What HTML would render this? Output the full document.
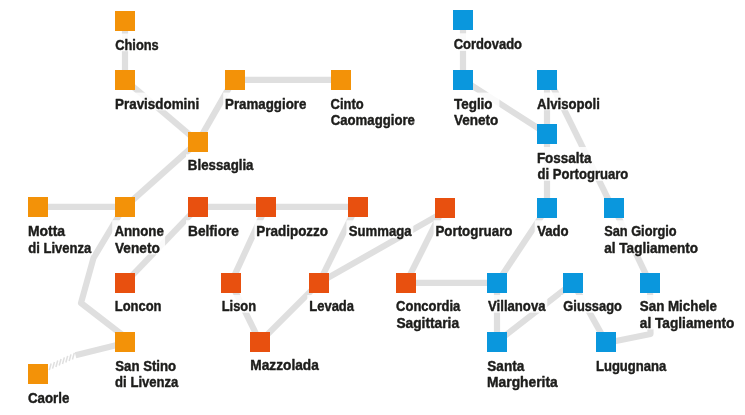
<!DOCTYPE html>
<html lang="it"><head><meta charset="utf-8"><title>Mappa</title>
<style>
html,body{margin:0;padding:0;background:#fff}
body{width:745px;height:415px;overflow:hidden}
svg{display:block}
text{font-family:"Liberation Sans",Arial,sans-serif;font-weight:bold;font-size:15px;fill:#1d1d1b;stroke:#1d1d1b;stroke-width:0.45px;stroke-linejoin:round}
.l{stroke:#dfdfdf;stroke-width:6.2;fill:none;stroke-linejoin:round}
</style></head><body>
<svg width="745" height="415" viewBox="0 0 745 415">
<g class="l">
<line x1="125" y1="20.9" x2="125" y2="79.9"/>
<line x1="125" y1="79.9" x2="198" y2="141.9"/>
<line x1="233.5" y1="79.9" x2="198" y2="141.9"/>
<line x1="235" y1="79.9" x2="341" y2="79.9"/>
<line x1="198" y1="141.9" x2="125" y2="206.9"/>
<line x1="38" y1="206.9" x2="125" y2="206.9"/>
<line x1="198" y1="206.9" x2="266" y2="206.9"/>
<line x1="266" y1="206.9" x2="358" y2="206.9"/>
<line x1="198" y1="206.9" x2="125" y2="282.9"/>
<line x1="266" y1="206.9" x2="231" y2="282.9"/>
<line x1="356.3" y1="206.9" x2="319" y2="282.9"/>
<line x1="231" y1="282.9" x2="260" y2="341.9"/>
<line x1="319" y1="282.9" x2="260" y2="341.9"/>
<line x1="319" y1="282.9" x2="445" y2="211.4"/>
<line x1="443.5" y1="207.9" x2="406" y2="282.9"/>
<line x1="406" y1="282.9" x2="497" y2="282.9"/>
<line x1="463" y1="19.9" x2="463" y2="79.9"/>
<line x1="463" y1="79.9" x2="547" y2="133.9"/>
<line x1="547" y1="79.9" x2="547" y2="133.9"/>
<line x1="549.5" y1="79.9" x2="612.5" y2="207.9"/>
<line x1="547" y1="133.9" x2="547" y2="207.9"/>
<line x1="547" y1="207.9" x2="497" y2="282.9"/>
<line x1="614" y1="207.9" x2="650" y2="282.9"/>
<line x1="497" y1="282.9" x2="497" y2="341.9"/>
<line x1="573" y1="282.9" x2="497" y2="341.9"/>
<line x1="573" y1="282.9" x2="606" y2="341.9"/>
<polyline points="124,207 93.5,258 81,303 125,337"/>
<polyline points="650,283 650.5,334 606,343"/>
<line x1="125" y1="343" x2="75.5" y2="355.2"/>
<line x1="49.30" y1="370.11" x2="51.10" y2="363.51" stroke-width="1.5"/>
<line x1="52.61" y1="368.59" x2="54.41" y2="361.99" stroke-width="1.5"/>
<line x1="55.92" y1="367.06" x2="57.72" y2="360.46" stroke-width="1.5"/>
<line x1="59.23" y1="365.54" x2="61.03" y2="358.94" stroke-width="1.5"/>
<line x1="62.54" y1="364.02" x2="64.34" y2="357.42" stroke-width="1.5"/>
<line x1="65.85" y1="362.50" x2="67.65" y2="355.89" stroke-width="1.5"/>
<line x1="69.16" y1="360.97" x2="70.96" y2="354.37" stroke-width="1.5"/>
<line x1="72.47" y1="359.45" x2="74.27" y2="352.85" stroke-width="1.5"/>
</g>
<rect x="115" y="11" width="20" height="20" fill="#f39208"/>
<rect x="115" y="70" width="20" height="20" fill="#f39208"/>
<rect x="225" y="70" width="20" height="20" fill="#f39208"/>
<rect x="331" y="70" width="20" height="20" fill="#f39208"/>
<rect x="188" y="132" width="20" height="20" fill="#f39208"/>
<rect x="28" y="197" width="20" height="20" fill="#f39208"/>
<rect x="115" y="197" width="20" height="20" fill="#f39208"/>
<rect x="188" y="197" width="20" height="20" fill="#e8500f"/>
<rect x="256" y="197" width="20" height="20" fill="#e8500f"/>
<rect x="348" y="197" width="20" height="20" fill="#e8500f"/>
<rect x="435" y="198" width="20" height="20" fill="#e8500f"/>
<rect x="115" y="273" width="20" height="20" fill="#e8500f"/>
<rect x="221" y="273" width="20" height="20" fill="#e8500f"/>
<rect x="309" y="273" width="20" height="20" fill="#e8500f"/>
<rect x="250" y="332" width="20" height="20" fill="#e8500f"/>
<rect x="115" y="332" width="20" height="20" fill="#f39208"/>
<rect x="28" y="364" width="20" height="20" fill="#f39208"/>
<rect x="453" y="10" width="20" height="20" fill="#0a97dd"/>
<rect x="453" y="70" width="20" height="20" fill="#0a97dd"/>
<rect x="537" y="70" width="20" height="20" fill="#0a97dd"/>
<rect x="537" y="124" width="20" height="20" fill="#0a97dd"/>
<rect x="537" y="198" width="20" height="20" fill="#0a97dd"/>
<rect x="604" y="198" width="20" height="20" fill="#0a97dd"/>
<rect x="396" y="273" width="20" height="20" fill="#e8500f"/>
<rect x="487" y="273" width="20" height="20" fill="#0a97dd"/>
<rect x="563" y="273" width="20" height="20" fill="#0a97dd"/>
<rect x="640" y="273" width="20" height="20" fill="#0a97dd"/>
<rect x="487" y="332" width="20" height="20" fill="#0a97dd"/>
<rect x="596" y="332" width="20" height="20" fill="#0a97dd"/>
<g fill="#fff" fill-opacity="0.84">
<rect x="113.1" y="33.5" width="46.6" height="17.7"/>
<rect x="113.2" y="92.6" width="87.0" height="17.7"/>
<rect x="223.2" y="92.6" width="84.3" height="17.7"/>
<rect x="328.6" y="92.6" width="87.4" height="34.1"/>
<rect x="186.0" y="154.3" width="69.3" height="17.7"/>
<rect x="26.0" y="220.2" width="67.0" height="34.2"/>
<rect x="112.2" y="220.2" width="52.9" height="34.2"/>
<rect x="186.0" y="220.2" width="54.0" height="17.7"/>
<rect x="254.5" y="220.2" width="74.6" height="17.7"/>
<rect x="346.4" y="220.3" width="66.9" height="17.7"/>
<rect x="433.6" y="220.3" width="80.1" height="17.7"/>
<rect x="112.9" y="295.0" width="49.7" height="17.7"/>
<rect x="219.7" y="295.0" width="37.3" height="17.7"/>
<rect x="307.3" y="295.0" width="48.6" height="17.7"/>
<rect x="248.5" y="354.0" width="72.3" height="17.7"/>
<rect x="112.9" y="354.7" width="67.3" height="34.2"/>
<rect x="25.7" y="386.6" width="45.0" height="17.7"/>
<rect x="451.6" y="33.3" width="71.6" height="17.7"/>
<rect x="451.5" y="92.6" width="47.9" height="34.1"/>
<rect x="534.7" y="92.5" width="66.0" height="17.7"/>
<rect x="535.2" y="147.0" width="94.2" height="33.8"/>
<rect x="534.7" y="220.3" width="35.0" height="17.7"/>
<rect x="602.0" y="220.3" width="97.2" height="34.5"/>
<rect x="394.1" y="295.0" width="68.1" height="34.4"/>
<rect x="485.5" y="295.0" width="61.8" height="17.7"/>
<rect x="561.1" y="295.0" width="62.0" height="17.7" fill-opacity="0.92"/>
<rect x="637.6" y="295.0" width="98.2" height="34.4"/>
<rect x="485.2" y="354.7" width="74.4" height="34.0"/>
<rect x="594.3" y="354.7" width="73.8" height="17.7"/>
</g>
<text id="chions0" x="115.28" y="49.6" textLength="43.43" lengthAdjust="spacingAndGlyphs">Chions</text>
<text id="prav0" x="115.03" y="108.7" textLength="84.23" lengthAdjust="spacingAndGlyphs">Pravisdomini</text>
<text id="pram0" x="225.09" y="108.7" textLength="81.23" lengthAdjust="spacingAndGlyphs">Pramaggiore</text>
<text id="cinto0" x="330.62" y="108.7" textLength="33.07" lengthAdjust="spacingAndGlyphs">Cinto</text>
<text id="cinto1" x="330.72" y="125.1" textLength="84.17" lengthAdjust="spacingAndGlyphs">Caomaggiore</text>
<text id="bless0" x="187.87" y="170.4" textLength="65.65" lengthAdjust="spacingAndGlyphs">Blessaglia</text>
<text id="motta0" x="27.95" y="236.3" textLength="37.18" lengthAdjust="spacingAndGlyphs">Motta</text>
<text id="motta1" x="28.25" y="252.8" textLength="63.06" lengthAdjust="spacingAndGlyphs">di Livenza</text>
<text id="annone0" x="114.39" y="236.3" textLength="49.46" lengthAdjust="spacingAndGlyphs">Annone</text>
<text id="annone1" x="115.00" y="252.8" textLength="44.78" lengthAdjust="spacingAndGlyphs">Veneto</text>
<text id="belf0" x="188.06" y="236.3" textLength="50.86" lengthAdjust="spacingAndGlyphs">Belfiore</text>
<text id="prad0" x="256.28" y="236.3" textLength="71.76" lengthAdjust="spacingAndGlyphs">Pradipozzo</text>
<text id="summ0" x="348.72" y="236.4" textLength="62.81" lengthAdjust="spacingAndGlyphs">Summaga</text>
<text id="porto0" x="435.44" y="236.4" textLength="77.07" lengthAdjust="spacingAndGlyphs">Portogruaro</text>
<text id="loncon0" x="114.79" y="311.1" textLength="46.68" lengthAdjust="spacingAndGlyphs">Loncon</text>
<text id="lison0" x="221.72" y="311.1" textLength="34.36" lengthAdjust="spacingAndGlyphs">Lison</text>
<text id="levada0" x="309.29" y="311.1" textLength="44.71" lengthAdjust="spacingAndGlyphs">Levada</text>
<text id="mazz0" x="250.36" y="370.1" textLength="68.42" lengthAdjust="spacingAndGlyphs">Mazzolada</text>
<text id="stino0" x="115.29" y="370.8" textLength="60.89" lengthAdjust="spacingAndGlyphs">San Stino</text>
<text id="stino1" x="115.11" y="387.3" textLength="63.30" lengthAdjust="spacingAndGlyphs">di Livenza</text>
<text id="caorle0" x="27.93" y="402.7" textLength="41.39" lengthAdjust="spacingAndGlyphs">Caorle</text>
<text id="cord0" x="453.63" y="49.4" textLength="68.42" lengthAdjust="spacingAndGlyphs">Cordovado</text>
<text id="teglio0" x="454.02" y="108.7" textLength="38.53" lengthAdjust="spacingAndGlyphs">Teglio</text>
<text id="teglio1" x="454.01" y="125.1" textLength="44.31" lengthAdjust="spacingAndGlyphs">Veneto</text>
<text id="alvis0" x="537.05" y="108.6" textLength="62.83" lengthAdjust="spacingAndGlyphs">Alvisopoli</text>
<text id="foss0" x="536.88" y="163.1" textLength="54.70" lengthAdjust="spacingAndGlyphs">Fossalta</text>
<text id="foss1" x="537.55" y="179.2" textLength="90.73" lengthAdjust="spacingAndGlyphs">di Portogruaro</text>
<text id="vado0" x="537.15" y="236.4" textLength="31.55" lengthAdjust="spacingAndGlyphs">Vado</text>
<text id="giorgio0" x="604.15" y="236.4" textLength="72.46" lengthAdjust="spacingAndGlyphs">San Giorgio</text>
<text id="giorgio1" x="604.29" y="253.2" textLength="93.80" lengthAdjust="spacingAndGlyphs">al Tagliamento</text>
<text id="conc0" x="396.09" y="311.1" textLength="64.27" lengthAdjust="spacingAndGlyphs">Concordia</text>
<text id="conc1" x="396.41" y="327.8" textLength="62.65" lengthAdjust="spacingAndGlyphs">Sagittaria</text>
<text id="villa0" x="488.09" y="311.1" textLength="57.42" lengthAdjust="spacingAndGlyphs">Villanova</text>
<text id="giuss0" x="563.33" y="311.1" textLength="58.53" lengthAdjust="spacingAndGlyphs" stroke="#111" stroke-width="0.9" fill="#111">Giussago</text>
<text id="michele0" x="639.81" y="311.1" textLength="77.16" lengthAdjust="spacingAndGlyphs">San Michele</text>
<text id="michele1" x="639.86" y="327.8" textLength="94.59" lengthAdjust="spacingAndGlyphs">al Tagliamento</text>
<text id="santa0" x="487.34" y="370.8" textLength="36.89" lengthAdjust="spacingAndGlyphs">Santa</text>
<text id="santa1" x="487.07" y="387.1" textLength="70.66" lengthAdjust="spacingAndGlyphs">Margherita</text>
<text id="lugu0" x="595.95" y="370.8" textLength="70.34" lengthAdjust="spacingAndGlyphs">Lugugnana</text>
</svg></body></html>
